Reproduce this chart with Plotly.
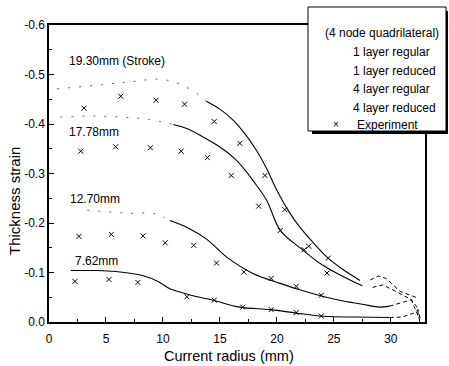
import plotly.graph_objects as go

# ---------------- data ----------------
strokes = ["19.30mm (Stroke)", "17.78mm", "12.70mm", "7.62mm"]
label_x = [1.6, 1.6, 1.65, 2.1]
label_y = [-0.527, -0.383, -0.249, -0.123]

# experiment points
exp_1930_x = [3.07, 6.3, 9.4, 11.9, 14.5, 16.75, 18.95, 20.7, 22.8, 24.5]
exp_1930_y = [-0.432, -0.456, -0.448, -0.440, -0.405, -0.361, -0.296, -0.227, -0.153, -0.129]
exp_1778_x = [2.78, 5.85, 8.9, 11.6, 13.9, 16.0, 18.4, 20.3, 22.4, 24.4]
exp_1778_y = [-0.345, -0.354, -0.352, -0.345, -0.332, -0.296, -0.234, -0.185, -0.146, -0.099]
exp_1270_x = [2.63, 5.47, 8.25, 10.2, 12.7, 14.7, 17.1, 19.5, 21.7, 23.9]
exp_1270_y = [-0.173, -0.177, -0.174, -0.160, -0.155, -0.119, -0.101, -0.088, -0.072, -0.054]
exp_0762_x = [2.28, 5.26, 7.8, 12.1, 14.5, 17.0, 19.5, 21.7, 23.9]
exp_0762_y = [-0.082, -0.086, -0.080, -0.051, -0.044, -0.030, -0.025, -0.019, -0.012]

# FE curves: faint (dotted) early parts
dot_1930_x = [0.7, 4.0, 7.0, 10.0, 12.0, 13.2, 13.8]
dot_1930_y = [-0.471, -0.478, -0.485, -0.490, -0.475, -0.458, -0.446]
dot_1778_x = [1.0, 4.0, 7.0, 8.8, 10.9]
dot_1778_y = [-0.414, -0.416, -0.413, -0.409, -0.399]
dot_1270_x = [3.36, 6.7, 9.4, 10.6]
dot_1270_y = [-0.226, -0.220, -0.218, -0.205]

# FE curves: solid parts
sol_1930_x = [13.8, 15.0, 16.2, 17.2, 18.2, 19.1, 20.0, 21.0, 22.0, 23.2, 24.4, 25.8, 27.3]
sol_1930_y = [-0.446, -0.430, -0.407, -0.380, -0.347, -0.310, -0.266, -0.225, -0.192, -0.160, -0.131, -0.106, -0.084]
sol_1778_x = [10.9, 12.2, 13.5, 14.9, 16.2, 17.1, 17.9, 19.1, 20.3, 22.3, 24.0, 25.8, 27.5]
sol_1778_y = [-0.399, -0.390, -0.374, -0.355, -0.332, -0.310, -0.286, -0.246, -0.185, -0.145, -0.115, -0.092, -0.073]
sol_1270_x = [10.6, 12.2, 13.8, 15.6, 17.9, 20.3, 22.0, 24.0, 25.5, 27.5, 29.0, 29.9]
sol_1270_y = [-0.205, -0.190, -0.168, -0.131, -0.098, -0.078, -0.065, -0.052, -0.044, -0.036, -0.030, -0.032]
sol_0762_x = [1.9, 4.0, 5.85, 8.2, 9.65, 10.6, 11.4, 12.8, 14.4, 16.75, 19.4, 21.7, 24.1, 27.0, 29.9]
sol_0762_y = [-0.104, -0.104, -0.102, -0.094, -0.081, -0.067, -0.061, -0.052, -0.044, -0.030, -0.025, -0.018, -0.0115, -0.010, -0.009]

# FE curves: dashed end parts near the die edge
end_1930_x = [28.2, 28.9, 29.6, 30.8, 31.6, 32.2]
end_1930_y = [-0.085, -0.093, -0.088, -0.062, -0.055, -0.050]
end_1778_x = [28.4, 29.3, 30.6, 31.8, 32.4]
end_1778_y = [-0.070, -0.075, -0.060, -0.045, -0.012]
end_1270_x = [29.9, 30.8, 31.8, 32.3, 32.5]
end_1270_y = [-0.032, -0.038, -0.045, -0.030, -0.005]
end_0762_x = [29.9, 31.0, 32.0, 32.4, 32.6]
end_0762_y = [-0.009, -0.010, -0.018, -0.025, -0.004]

x_tickvals = [0, 5, 10, 15, 20, 25, 30]
x_ticktext = ["0", "5", "10", "15", "20", "25", "30"]
y_tickvals = [-0.6, -0.5, -0.4, -0.3, -0.2, -0.1, 0.0]
y_ticktext = ["-0.6", "-0.5", "-0.4", "-0.3", "-0.2", "-0.1", "0.0"]

x_title = "Current radius (mm)"
y_title = "Thickness strain"
legend_header = "(4 node quadrilateral)"
legend_items = ["1 layer regular", "1 layer reduced", "4 layer regular", "4 layer reduced"]
legend_exp = "Experiment"

FONT = "Liberation Sans, Arial, sans-serif"

fig = go.Figure()

for xs, ys in [(dot_1930_x, dot_1930_y), (dot_1778_x, dot_1778_y), (dot_1270_x, dot_1270_y)]:
    fig.add_trace(go.Scatter(x=xs, y=ys, mode="lines", showlegend=False, line_shape="spline",
                             line=dict(color="#666", width=1, dash="2px,9px")))
for xs, ys in [(sol_1930_x, sol_1930_y), (sol_1778_x, sol_1778_y),
               (sol_1270_x, sol_1270_y), (sol_0762_x, sol_0762_y)]:
    fig.add_trace(go.Scatter(x=xs, y=ys, mode="lines", showlegend=False, line_shape="spline",
                             line=dict(color="black", width=1.1)))
for xs, ys in [(end_1930_x, end_1930_y), (end_1778_x, end_1778_y),
               (end_1270_x, end_1270_y), (end_0762_x, end_0762_y)]:
    fig.add_trace(go.Scatter(x=xs, y=ys, mode="lines", showlegend=False,
                             line=dict(color="black", width=1, dash="4px,3px")))
for xs, ys in [(exp_1930_x, exp_1930_y), (exp_1778_x, exp_1778_y),
               (exp_1270_x, exp_1270_y), (exp_0762_x, exp_0762_y)]:
    fig.add_trace(go.Scatter(x=xs, y=ys, mode="markers", showlegend=False,
                             marker=dict(symbol="x-thin", size=5, line=dict(color="black", width=1))))

annotations = []
for t, lx, ly in zip(strokes, label_x, label_y):
    annotations.append(dict(x=lx, y=ly, xref="x", yref="y", text=t, showarrow=False,
                            xanchor="left", yanchor="middle",
                            font=dict(family=FONT, size=12, color="black")))

# layout geometry (pixels -> paper)
L, R, T, B = 49, 425, 25, 322
def px(p):
    return (p - L) / (R - L)
def py(p):
    return (B - p) / (B - T)

# axis titles
annotations.append(dict(x=px(229), y=py(356), xref="paper", yref="paper", text=x_title,
                        showarrow=False, xanchor="center", yanchor="middle",
                        font=dict(family=FONT, size=14.5, color="black")))
annotations.append(dict(x=px(14), y=py(201), xref="paper", yref="paper", text=y_title,
                        showarrow=False, xanchor="center", yanchor="middle", textangle=-90,
                        font=dict(family=FONT, size=15, color="black")))

bx0, bx1, by0, by1 = 308, 446, 7, 131
shapes = [
    dict(type="rect", xref="paper", yref="paper", x0=px(bx0 + 4), x1=px(bx1 + 2),
         y0=py(by1 + 3), y1=py(by0 + 4), fillcolor="black", line=dict(width=0)),
    dict(type="rect", xref="paper", yref="paper", x0=px(bx0), x1=px(bx1),
         y0=py(by1), y1=py(by0), fillcolor="white", line=dict(color="black", width=1)),
]
annotations.append(dict(x=px(323), y=py(33), xref="paper", yref="paper", text=legend_header,
                        showarrow=False, xanchor="left", yanchor="middle",
                        font=dict(family=FONT, size=12, color="black")))
for i, t in enumerate(legend_items):
    annotations.append(dict(x=px(351), y=py(52 + i * 18.5), xref="paper", yref="paper", text=t,
                            showarrow=False, xanchor="left", yanchor="middle",
                            font=dict(family=FONT, size=12, color="black")))
annotations.append(dict(x=px(355), y=py(125), xref="paper", yref="paper", text=legend_exp,
                        showarrow=False, xanchor="left", yanchor="middle",
                        font=dict(family=FONT, size=12, color="black")))
annotations.append(dict(x=px(336), y=py(124), xref="paper", yref="paper", text="×",
                        showarrow=False, xanchor="center", yanchor="middle",
                        font=dict(family=FONT, size=10, color="black")))

fig.update_layout(
    width=449, height=366,
    margin=dict(l=L, r=449 - R, t=T, b=366 - B),
    paper_bgcolor="white", plot_bgcolor="white",
    showlegend=False,
    font=dict(family=FONT, size=12, color="black"),
    shapes=shapes, annotations=annotations,
)
fig.update_xaxes(
    range=[0, 33], tickmode="array", tickvals=x_tickvals, ticktext=x_ticktext,
    ticks="inside", ticklen=5, tickwidth=1, tickcolor="black",
    minor=dict(dtick=2.5, ticks="inside", ticklen=3, tickcolor="black", showgrid=False),
    showline=True, linecolor="black", linewidth=1.5, mirror=True,
    showgrid=False, zeroline=False, ticklabelstandoff=5,
    tickfont=dict(family=FONT, size=12),
)
fig.update_yaxes(
    range=[0.0, -0.6], tickmode="array", tickvals=y_tickvals, ticktext=y_ticktext,
    ticks="inside", ticklen=5, tickwidth=1, tickcolor="black",
    minor=dict(dtick=0.05, ticks="inside", ticklen=3, tickcolor="black", showgrid=False),
    showline=True, linecolor="black", linewidth=1.5, mirror=True,
    showgrid=False, zeroline=False,
    tickfont=dict(family=FONT, size=12),
)

fig.write_html("out.html")
